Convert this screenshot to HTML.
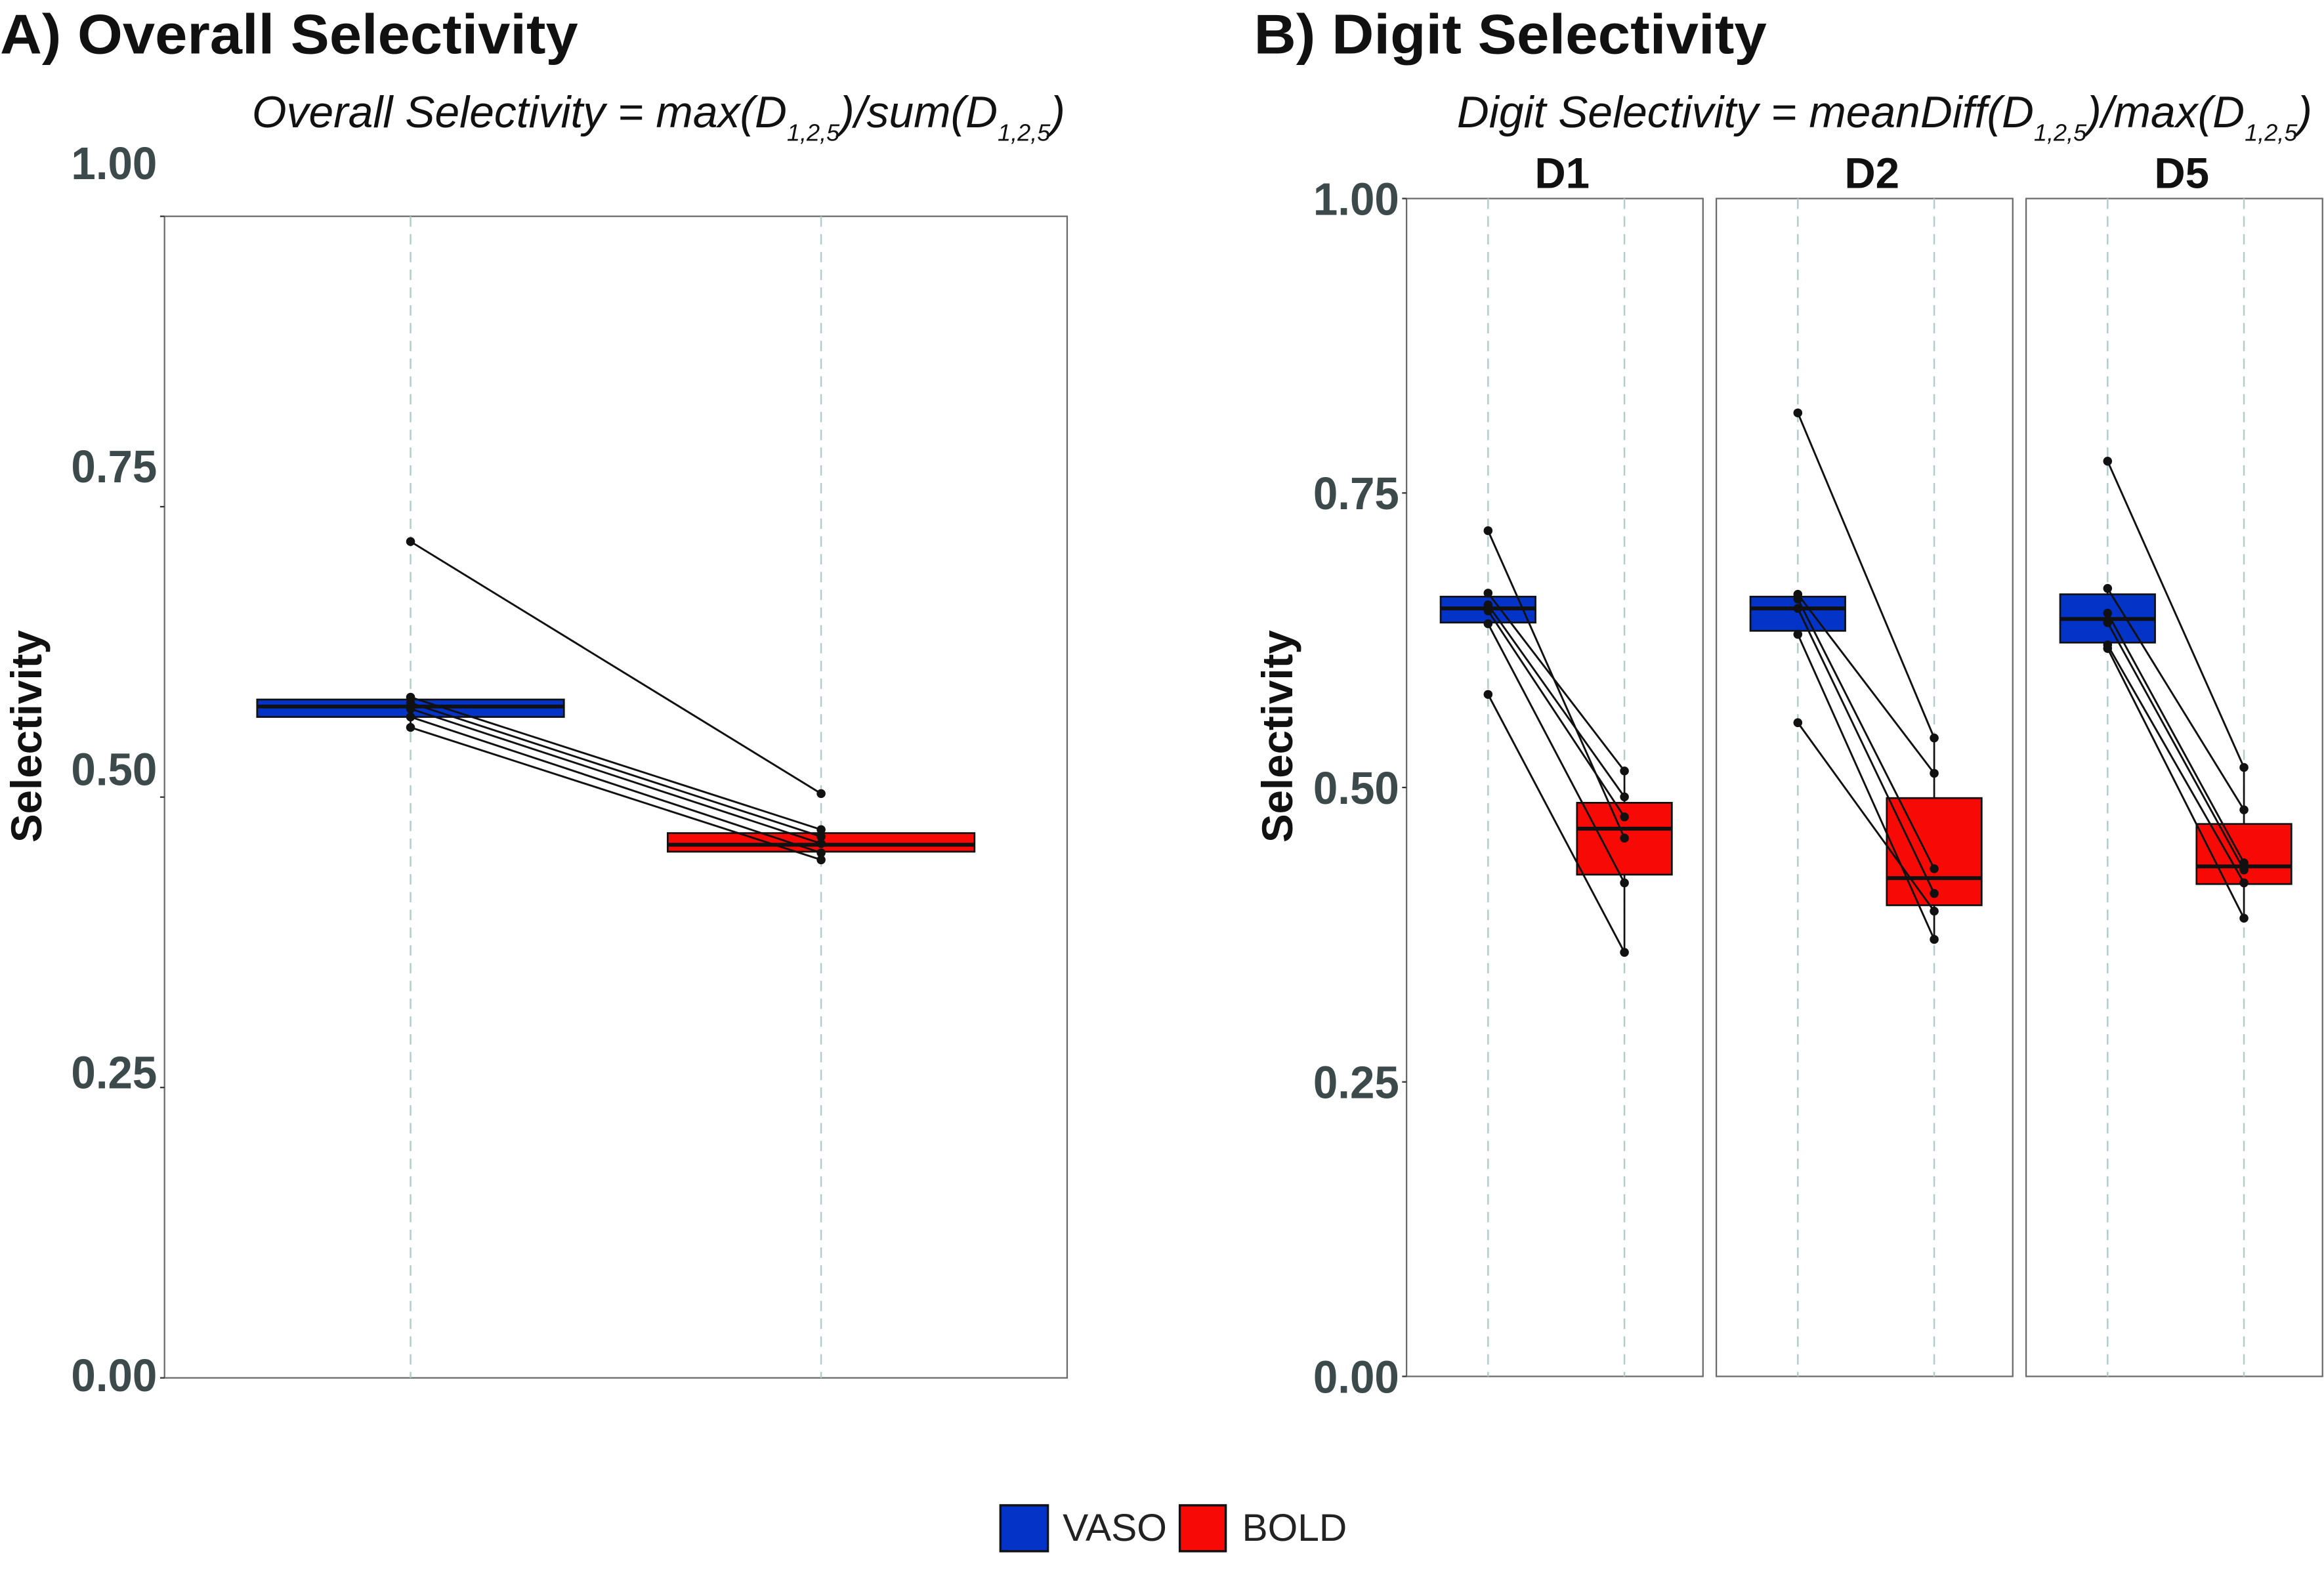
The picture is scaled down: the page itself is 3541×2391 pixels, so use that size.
<!DOCTYPE html>
<html>
<head>
<meta charset="utf-8">
<style>
html,body{margin:0;padding:0;background:#fff;}
svg{display:block;}
text{font-family:"Liberation Sans",sans-serif;}
</style>
</head>
<body>
<svg id="fig" width="3541" height="2391" viewBox="0 0 1568 1059" preserveAspectRatio="none" xmlns="http://www.w3.org/2000/svg">
  <rect x="0" y="0" width="1568" height="1059" fill="#fff"/>
  <text x="0" y="36" font-size="38" font-weight="bold" fill="#111" textLength="390" lengthAdjust="spacingAndGlyphs">A) Overall Selectivity</text>
  <text x="846" y="36" font-size="38" font-weight="bold" fill="#111" textLength="346" lengthAdjust="spacingAndGlyphs">B) Digit Selectivity</text>
  <text x="170" y="86" font-size="30" font-style="italic" fill="#111">Overall Selectivity = max(D<tspan font-size="16" dy="9">1,2,5</tspan><tspan dy="-9">)/sum(D</tspan><tspan font-size="16" dy="9">1,2,5</tspan><tspan dy="-9">)</tspan></text>
  <text x="983" y="86" font-size="30" font-style="italic" fill="#111">Digit Selectivity = meanDiff(D<tspan font-size="16" dy="9">1,2,5</tspan><tspan dy="-9">)/max(D</tspan><tspan font-size="16" dy="9">1,2,5</tspan><tspan dy="-9">)</tspan></text>
  <g id="plots"></g>
  <g>
    <rect x="675" y="1016" width="32" height="31" fill="#0433c7" stroke="#111" stroke-width="1.5"/>
    <text x="717" y="1040" font-size="26" fill="#222">VASO</text>
    <rect x="796" y="1016" width="31" height="31" fill="#f70a05" stroke="#111" stroke-width="1.5"/>
    <text x="838" y="1040" font-size="26" fill="#222">BOLD</text>
  </g>
</svg>
<script>
// Panel A data
const aVaso = [0.72, 0.586, 0.581, 0.576, 0.569, 0.560];
const aBold = [0.503, 0.472, 0.466, 0.460, 0.452, 0.446];
const aVasoBox = [0.569, 0.578, 0.584]; // q1, median, q3
const aBoldBox = [0.453, 0.459, 0.469];
// Panel B data
const facets = ["D1", "D2", "D5"];
const bVaso = [
  [0.718, 0.665, 0.655, 0.650, 0.639, 0.579],
  [0.818, 0.664, 0.660, 0.652, 0.630, 0.555],
  [0.777, 0.669, 0.648, 0.640, 0.621, 0.618]
];
const bBold = [
  [0.457, 0.514, 0.492, 0.475, 0.419, 0.360],
  [0.542, 0.512, 0.431, 0.410, 0.371, 0.395],
  [0.517, 0.481, 0.436, 0.430, 0.419, 0.389]
];
const bVasoBox = [[0.640, 0.652, 0.662], [0.633, 0.652, 0.662], [0.623, 0.643, 0.664]];
const bBoldBox = [[0.426, 0.465, 0.487], [0.400, 0.423, 0.491], [0.418, 0.433, 0.469]];
const yTicks = [0, 0.25, 0.5, 0.75, 1];
const yTickLabels = ["0.00", "0.25", "0.50", "0.75", "1.00"];

const NS = "http://www.w3.org/2000/svg";
const root = document.getElementById("plots");
function mk(tag, attrs, parent) {
  const e = document.createElementNS(NS, tag);
  for (const k in attrs) e.setAttribute(k, attrs[k]);
  (parent || root).appendChild(e);
  return e;
}
const VASO_C = "#0433c7", BOLD_C = "#f70a05";

function drawBox(g, x, w, stats, pts, color, y, name) {
  const iqr = stats[2] - stats[0];
  const inside = pts.filter(p => p >= stats[0] - 1.5 * iqr && p <= stats[2] + 1.5 * iqr);
  const mn = Math.min(stats[0], ...inside), mx = Math.max(stats[2], ...inside);
  const wl = mk("line", {x1: x, x2: x, y1: y(stats[2]), y2: y(mx), stroke: "#111", "stroke-width": 1.2}, g);
  
  
  const wl2 = mk("line", {x1: x, x2: x, y1: y(stats[0]), y2: y(mn), stroke: "#111", "stroke-width": 1.2}, g);
  
  
  const r = mk("rect", {x: x - w / 2, y: y(stats[2]), width: w, height: y(stats[0]) - y(stats[2]), fill: color, stroke: "#111", "stroke-width": 1.2}, g);
  
  
  const m = mk("line", {x1: x - w / 2, x2: x + w / 2, y1: y(stats[1]), y2: y(stats[1]), stroke: "#111", "stroke-width": 2.6}, g);
  
  
}

function drawPanel(opts) {
  const g = mk("g", {});
  
  
  const {x0, x1, yTop, yBot, cx, bw, vaso, bold, vbox, bbox} = opts;
  const y = v => yBot - (yBot - yTop) * v;
  const frame = mk("rect", {x: x0, y: yTop, width: x1 - x0, height: yBot - yTop, fill: "#fff", stroke: "#6a6a6a", "stroke-width": 1}, g);
  
  
  cx.forEach((c, i) => {
    const gl = mk("line", {x1: c, x2: c, y1: yTop, y2: yBot, stroke: "#b3cccb", "stroke-width": 1.1, "stroke-dasharray": "7,5"}, g);
    
    
  });
  drawBox(g, cx[0], bw, vbox, vaso, VASO_C, y, opts.name + '-vaso');
  drawBox(g, cx[1], bw, bbox, bold, BOLD_C, y, opts.name + '-bold');
  vaso.forEach((v, i) => {
    const l = mk("line", {x1: cx[0], y1: y(v), x2: cx[1], y2: y(bold[i]), stroke: "#111", "stroke-width": 1.3}, g);
    
    
  });
  vaso.forEach((v, i) => {
    const p = mk("circle", {cx: cx[0], cy: y(v), r: 3, fill: "#111"}, g);
    
    
  });
  bold.forEach((v, i) => {
    const p = mk("circle", {cx: cx[1], cy: y(v), r: 3, fill: "#111"}, g);
    
    
  });
  return y;
}

function drawYAxis(name, x0, y, labelY, titleX) {
  const g = mk("g", {});
  
  
  yTicks.forEach((t, i) => {
    const tk = mk("line", {x1: x0 - 3, x2: x0, y1: y(t), y2: y(t), stroke: "#333", "stroke-width": 1}, g);
    
    
    const lb = mk("text", {x: x0 - 5, y: labelY(t) + 11, "font-size": 31, "font-weight": "bold", "text-anchor": "end", fill: "#3d4a4c", textLength: 58, lengthAdjust: "spacingAndGlyphs"}, g);
    
    
    lb.textContent = yTickLabels[i];
  });
  const tt = mk("text", {x: 0, y: 0, "font-size": 29, "font-weight": "bold", fill: "#111", "text-anchor": "middle", transform: `translate(${titleX},497) rotate(-90)`}, g);
  
  
  tt.textContent = "Selectivity";
}

// Panel A
const yA = drawPanel({name: "panel-a", x0: 111, x1: 720, yTop: 146, yBot: 930, cx: [277, 554], bw: 207,
  vaso: aVaso, bold: aBold, vbox: aVasoBox, bbox: aBoldBox});
// panel A tick labels are laid out on a slightly stretched scale in the original
drawYAxis("panel-a-y-axis", 111, yA, v => 928 - 818 * v, 28);

// Panel B
const facetX = [949, 1158, 1367];
let yB;
facets.forEach((f, i) => {
  const x0 = facetX[i];
  yB = drawPanel({name: "facet-" + f.toLowerCase(), x0: x0, x1: x0 + 200, yTop: 134, yBot: 929,
    cx: [x0 + 55, x0 + 147], bw: 64, vaso: bVaso[i], bold: bBold[i], vbox: bVasoBox[i], bbox: bBoldBox[i]});
  const st = mk("text", {x: x0 + 105, y: 127, "font-size": 29, "font-weight": "bold", fill: "#111", "text-anchor": "middle"});
  
  
  st.textContent = f;
});
drawYAxis("panel-b-y-axis", 949, yB, yB, 872);
</script>
</body>
</html>
